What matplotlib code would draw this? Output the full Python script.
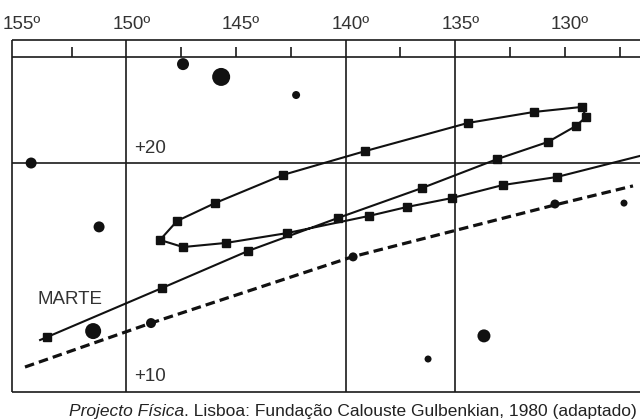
import matplotlib.pyplot as plt

plt.rcParams['font.family'] = ['Liberation Sans', 'DejaVu Sans']

# sky coordinates: right ascension (deg), declination (deg)
ra_labels = [155, 150, 145, 140, 135, 130]
grid_ra = [150, 140, 135]
tick_ra = [152.5, 147.5, 145, 142.5, 137.5, 132.5, 130, 127.5]
dec_labels = [20, 10]

# path of Mars (line vertices)
track_ra = [126.57, 130.36, 132.82, 135.15, 137.20, 138.93, 142.67, 145.46, 147.42,
            148.47, 147.69, 145.96, 142.86, 139.11, 134.42, 131.41, 129.22,
            129.03, 129.49, 130.77, 133.09, 136.51, 140.35, 144.45, 148.38, 153.62, 153.94]
track_dec = [20.31, 19.39, 19.04, 18.47, 18.08, 17.69, 16.94, 16.51, 16.33,
             16.64, 17.47, 18.25, 19.48, 20.52, 21.75, 22.23, 22.45,
             22.01, 21.62, 20.92, 20.17, 18.91, 17.60, 16.16, 14.54, 12.40, 12.27]

# observed positions of Mars (squares)
obs_ra = [130.36, 132.82, 135.15, 137.20, 138.93, 142.67, 145.46, 147.42, 148.47,
          147.69, 145.96, 142.86, 139.11, 134.42, 131.41, 129.22, 129.03, 129.49,
          130.77, 133.09, 136.51, 140.35, 144.45, 148.38, 153.62]
obs_dec = [19.39, 19.04, 18.47, 18.08, 17.69, 16.94, 16.51, 16.33, 16.64,
           17.47, 18.25, 19.48, 20.52, 21.75, 22.23, 22.45, 22.01, 21.62,
           20.92, 20.17, 18.91, 17.60, 16.16, 14.54, 12.40]

# ecliptic (dashed)
ecl_ra = [154.63, 148.88, 139.71, 130.45, 126.89]
ecl_dec = [11.09, 13.01, 15.90, 18.17, 19.00]

# background stars, diameter in px
star_ra = [154.35, 151.25, 147.42, 145.68, 142.26, 151.52, 148.88, 139.66, 130.45, 127.30, 136.24, 133.69]
star_dec = [20.00, 17.21, 24.32, 23.76, 22.97, 12.66, 13.01, 15.90, 18.21, 18.25, 11.44, 12.45]
star_d = [11, 11, 12, 18, 8, 16, 10, 9, 9, 7, 7, 13]

frame_ra = 155.22
strip_lo, strip_hi, tick_top = 24.63, 25.37, 25.07

fig = plt.figure(figsize=(6.4, 4.19), dpi=100)
ax = fig.add_axes([0, 0, 1, 1])
ax.set_xlim(155.77, 126.57)
ax.set_ylim(8.82, 27.12)
ax.axis('off')

line_c = '#1a1a1a'
text_c = '#333333'

# frame and grid
ax.vlines([frame_ra] + grid_ra, 10, strip_hi, color=line_c, lw=1.2)
ax.hlines([10, 20, strip_lo, strip_hi], frame_ra, 126.57, color=line_c, lw=1.2)
ax.vlines(tick_ra, strip_lo, tick_top, color=line_c, lw=1.2)

for r in ra_labels:
    ax.annotate(f'{r}º', (r, strip_hi), xytext=(5, 16), textcoords='offset pixels',
                ha='center', va='center', fontsize=13.5, color=text_c)
for d in dec_labels:
    ax.annotate(f'+{d}', (150, d), xytext=(8, 15), textcoords='offset pixels',
                ha='left', va='center', fontsize=13.5, color=text_c)

# ecliptic
ax.plot(ecl_ra, ecl_dec, color='#111111', lw=2.3, dashes=(3, 1.6), solid_capstyle='butt', zorder=3)

# stars
ax.scatter(star_ra, star_dec, s=[(d * 0.72) ** 2 for d in star_d], color='#111111', zorder=4, linewidths=0)

# Mars
ax.plot(track_ra, track_dec, color='#111111', lw=1.5, zorder=5)
ax.plot(obs_ra, obs_dec, 's', color='#111111', ms=6.2, zorder=6)
ax.text(154.08, 14.02, 'MARTE', ha='left', va='center', fontsize=13.5, color=text_c)

# caption
cap_y = 1 - 411 / 419
cap2 = fig.text(637 / 640, cap_y, '. Lisboa: Fundação Calouste Gulbenkian, 1980 (adaptado)',
                ha='right', va='center', fontsize=12.5, color='#222222')
fig.canvas.draw()
bb = cap2.get_window_extent()
fig.text(bb.x0 / 640, cap_y, 'Projecto Física', style='italic',
         ha='right', va='center', fontsize=12.5, color='#222222')

fig.savefig('out.png', dpi=100)
